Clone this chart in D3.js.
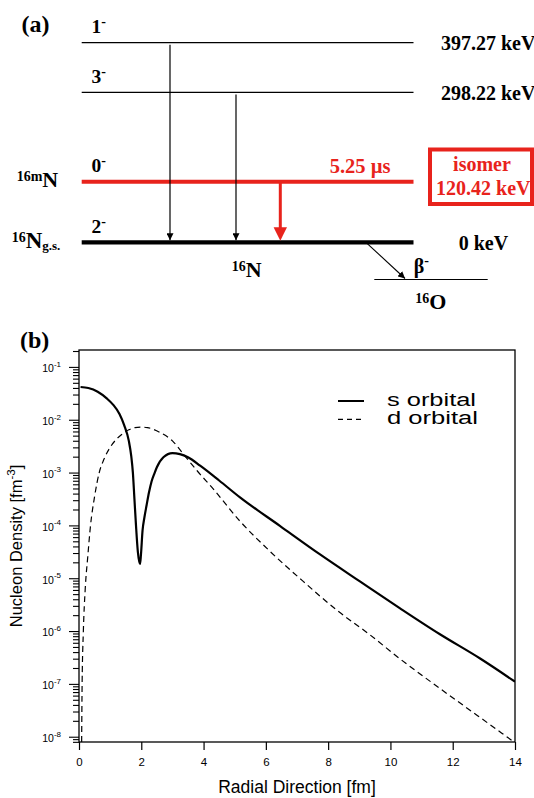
<!DOCTYPE html>
<html>
<head>
<meta charset="utf-8">
<script src="https://cdn.jsdelivr.net/npm/d3@7"></script>
<style>
  html, body { margin: 0; padding: 0; background: #ffffff; }
  svg { display: block; }
</style>
</head>
<body>
<script>
// ---------------- DATA ----------------
// Panel (a): level scheme of 16N
const levelEnergies = [397.27, 298.22, 120.42, 0];           // keV
const levelSpins    = ["1", "3", "0", "2"];                   // J (parity "-")
const levelLabels   = ["397.27 keV", "298.22 keV", "", "0 keV"];
const gammaFrom     = [397.27, 298.22, 120.42];               // transitions to g.s.
const isomerLabel   = ["isomer", "120.42 keV"];
const isomerLife    = "5.25 µs";

// Panel (b): nucleon density
const sRadius  = [0.05, 0.3, 0.6, 0.9, 1.1, 1.3, 1.45, 1.6, 1.68, 1.73, 1.78, 1.83, 1.89, 1.96, 1.99, 2.04, 2.1, 2.17, 2.25, 2.33, 2.42, 2.5, 2.71, 3.0, 3.24, 3.5, 3.89, 4.5, 5.17, 6.45, 7.74, 9.02, 10.31, 11.59, 12.88, 14.0];
const sDensity = [4.17e-2, 3.98e-2, 3.39e-2, 2.51e-2, 1.91e-2, 1.29e-2, 7.94e-3, 3.98e-3, 2.0e-3, 1.0e-3, 3.16e-4, 1.0e-4, 3.16e-5, 1.86e-5, 2.82e-5, 7.94e-5, 1.41e-4, 2.4e-4, 4.27e-4, 6.76e-4, 9.55e-4, 1.26e-3, 1.95e-3, 2.34e-3, 2.24e-3, 1.95e-3, 1.35e-3, 7.08e-4, 3.39e-4, 9.8e-5, 2.82e-5, 8.7e-6, 2.69e-6, 8.7e-7, 3.02e-7, 1.10e-7];
const dRadius  = [0.085, 0.1, 0.14, 0.2, 0.28, 0.37, 0.5, 0.65, 0.8, 1.0, 1.2, 1.37, 1.6, 1.8, 2.0, 2.2, 2.6, 3.0, 3.35, 3.8, 4.31, 5.17, 6.13, 7.2, 8.27, 9.34, 10.3, 11.6, 12.8, 13.9];
const dDensity = [7.9e-9, 1.0e-7, 1.0e-6, 6.3e-6, 2.5e-5, 1.0e-4, 3.5e-4, 1.0e-3, 1.78e-3, 3.0e-3, 4.27e-3, 5.25e-3, 6.46e-3, 7.08e-3, 7.24e-3, 7.08e-3, 5.75e-3, 3.98e-3, 2.24e-3, 1.07e-3, 4.9e-4, 1.2e-4, 3.24e-5, 8.7e-6, 2.51e-6, 8.5e-7, 3.0e-7, 8.1e-8, 2.5e-8, 8.5e-9];
const xTicks = [0, 2, 4, 6, 8, 10, 12, 14];
const yTickExponents = [-1, -2, -3, -4, -5, -6, -7, -8];
const legendNames = ["s orbital", "d orbital"];

// ---------------- SETUP ----------------
const W = 534, H = 798;
const RED = "#e8231c";
const SERIF = "'Liberation Serif', 'Times New Roman', serif";
const SANS = "'Liberation Sans', Arial, Helvetica, sans-serif";

const svg = d3.select("body").append("svg")
  .attr("width", W).attr("height", H)
  .attr("viewBox", `0 0 ${W} ${H}`);

// ---------------- PANEL (a) ----------------
const ga = svg.append("g");
const eY = d3.scaleLinear().domain([0, 397.27]).range([242.3, 42.7]);
const lvlX0 = 81.7, lvlX1 = 413.5;
const levelLabelX = [441, 441, 0, 458.7];

ga.append("text").attr("x", 21.5).attr("y", 31.5)
  .attr("font-family", SERIF).attr("font-weight", "bold").attr("font-size", 24)
  .text("(a)");

// arrowhead markers
const defs = svg.append("defs");
defs.append("marker").attr("id", "ahBlack").attr("viewBox", "0 0 10 10")
  .attr("refX", 10).attr("refY", 5).attr("markerWidth", 7).attr("markerHeight", 7)
  .attr("markerUnits", "userSpaceOnUse").attr("orient", "auto")
  .append("path").attr("d", "M0,0 L10,5 L0,10 Z").attr("fill", "#000");

levelEnergies.forEach((e, i) => {
  const isIso = e === 120.42;
  const isGs = e === 0;
  ga.append("line")
    .attr("x1", lvlX0).attr("x2", lvlX1)
    .attr("y1", eY(e)).attr("y2", eY(e))
    .attr("stroke", isIso ? RED : "#000")
    .attr("stroke-width", isIso ? 4 : (isGs ? 4.3 : 1.3));
  // spin label
  const t = ga.append("text").attr("x", 91.5).attr("y", eY(e) - 9.3)
    .attr("font-family", SERIF).attr("font-weight", "bold").attr("font-size", 19.5);
  t.append("tspan").text(levelSpins[i]);
  t.append("tspan").attr("font-size", 14).attr("dy", -7).text("-");
  if (levelLabels[i]) {
    ga.append("text").attr("x", levelLabelX[i]).attr("y", eY(e) + 7.3)
      .attr("font-family", SERIF).attr("font-weight", "bold").attr("font-size", 20)
      .text(levelLabels[i]);
  }
});

// gamma transitions
const gammaX = [170, 236, 280.3];
gammaFrom.forEach((e, i) => {
  if (e === 120.42) {
    ga.append("line").attr("x1", gammaX[i]).attr("x2", gammaX[i])
      .attr("y1", eY(e) + 1).attr("y2", eY(0) - 14)
      .attr("stroke", RED).attr("stroke-width", 3);
    ga.append("path")
      .attr("d", `M${gammaX[i] - 6.7},${eY(0) - 15} L${gammaX[i] + 6.7},${eY(0) - 15} L${gammaX[i]},${eY(0) - 1.5} Z`)
      .attr("fill", RED);
  } else {
    ga.append("line").attr("x1", gammaX[i]).attr("x2", gammaX[i])
      .attr("y1", eY(e) + 2).attr("y2", eY(0) - 2)
      .attr("stroke", "#000").attr("stroke-width", 1.2)
      .attr("marker-end", "url(#ahBlack)");
  }
});

// isomer annotations
ga.append("text").attr("x", 390.5).attr("y", 173.3).attr("text-anchor", "end")
  .attr("font-family", SERIF).attr("font-weight", "bold").attr("font-size", 20.5)
  .attr("fill", RED).text(isomerLife);
ga.append("rect").attr("x", 430).attr("y", 149.5).attr("width", 102).attr("height", 54.5)
  .attr("fill", "none").attr("stroke", RED).attr("stroke-width", 4);
ga.append("text").attr("x", 482).attr("y", 170.7).attr("text-anchor", "middle")
  .attr("font-family", SERIF).attr("font-weight", "bold").attr("font-size", 20)
  .attr("fill", RED).text(isomerLabel[0]);
ga.append("text").attr("x", 483.3).attr("y", 195).attr("text-anchor", "middle")
  .attr("font-family", SERIF).attr("font-weight", "bold").attr("font-size", 20)
  .attr("fill", RED).text(isomerLabel[1]);

// nucleus labels
function nucLabel(x, y, mass, sym, sub, symSize) {
  const t = ga.append("text").attr("x", x).attr("y", y)
    .attr("font-family", SERIF).attr("font-weight", "bold");
  t.append("tspan").attr("font-size", 14).attr("dy", -6).text(mass);
  t.append("tspan").attr("font-size", symSize).attr("dy", 6).text(sym);
  if (sub) t.append("tspan").attr("font-size", 13).attr("dy", 2).text(sub);
}
nucLabel(16.7, 186.7, "16m", "N", null, 22);
nucLabel(11.7, 248, "16", "N", "g.s.", 23);
nucLabel(231.7, 277.3, "16", "N", null, 22);
nucLabel(415.3, 309.3, "16", "O", null, 22);

// beta decay
ga.append("line").attr("x1", 367).attr("y1", eY(0) + 1).attr("x2", 405).attr("y2", 278.5)
  .attr("stroke", "#000").attr("stroke-width", 1.1).attr("marker-end", "url(#ahBlack)");
ga.append("line").attr("x1", 374.3).attr("x2", 487.7).attr("y1", 279.5).attr("y2", 279.5)
  .attr("stroke", "#000").attr("stroke-width", 1.2);
const bt = ga.append("text").attr("x", 413.7).attr("y", 273.3)
  .attr("font-family", SERIF).attr("font-weight", "bold").attr("font-size", 20);
bt.append("tspan").text("β");
bt.append("tspan").attr("font-size", 14).attr("dy", -8).text("-");

// ---------------- PANEL (b) ----------------
const gb = svg.append("g");
const L = 79, R = 515, T = 350, B = 742;
const x = d3.scaleLinear().domain([0, 14]).range([L, R]);
const y = d3.scaleLog().domain([Math.pow(10, -8.1), Math.pow(10, -0.68)]).range([B, T]);

gb.append("text").attr("x", 20).attr("y", 348)
  .attr("font-family", SERIF).attr("font-weight", "bold").attr("font-size", 24)
  .text("(b)");

defs.append("clipPath").attr("id", "plotClip")
  .append("rect").attr("x", L).attr("y", T).attr("width", R - L).attr("height", B - T);

// y axis: major + minor ticks
const majors = yTickExponents.map(e => Math.pow(10, e));
const minors = [];
for (let e = -9; e <= -1; e++) for (let m = 2; m <= 9; m++) {
  const v = m * Math.pow(10, e);
  if (v >= y.domain()[0] && v <= y.domain()[1]) minors.push(v);
}
const yMinor = gb.append("g").attr("transform", `translate(${L},0)`)
  .call(d3.axisLeft(y).tickValues(minors).tickSize(6).tickFormat(""));
const yMajor = gb.append("g").attr("transform", `translate(${L},0)`)
  .call(d3.axisLeft(y).tickValues(majors).tickSize(10).tickFormat(""));
[yMinor, yMajor].forEach(g => {
  g.select(".domain").remove();
  g.selectAll(".tick line").attr("stroke", "#000").attr("stroke-width", 1.1);
});
yMajor.selectAll(".tick").each(function(d) {
  const t = d3.select(this).append("text")
    .attr("x", -18).attr("y", 4.8).attr("text-anchor", "end")
    .attr("font-family", SANS).attr("font-size", 10.5).attr("fill", "#000");
  t.append("tspan").text("10");
  t.append("tspan").attr("font-size", 8).attr("dy", -5.5).text(String(Math.round(Math.log10(d))));
});

// x axis
const xAxis = gb.append("g").attr("transform", `translate(0,${B})`)
  .call(d3.axisBottom(x).tickValues(xTicks).tickSize(8).tickPadding(7.5));
xAxis.select(".domain").remove();
xAxis.selectAll(".tick line").attr("stroke", "#000").attr("stroke-width", 1.2);
xAxis.selectAll(".tick text").attr("font-family", SANS).attr("font-size", 11.5).attr("fill", "#000");

// frame
gb.append("rect").attr("x", L).attr("y", T).attr("width", R - L).attr("height", B - T)
  .attr("fill", "none").attr("stroke", "#000").attr("stroke-width", 1.3);

// curves
const line = d3.line().x(d => x(d[0])).y(d => y(d[1])).curve(d3.curveMonotoneX);
const sData = sRadius.map((r, i) => [r, sDensity[i]]);
const dData = dRadius.map((r, i) => [r, dDensity[i]]);
const curves = gb.append("g").attr("clip-path", "url(#plotClip)");
curves.append("path").datum(dData).attr("d", line)
  .attr("fill", "none").attr("stroke", "#000").attr("stroke-width", 1.2)
  .attr("stroke-dasharray", "6,4");
curves.append("path").datum(sData).attr("d", line)
  .attr("fill", "none").attr("stroke", "#000").attr("stroke-width", 2.2);

// axis titles
gb.append("text").attr("x", (L + R) / 2).attr("y", 792.5).attr("text-anchor", "middle")
  .attr("font-family", SANS).attr("font-size", 17.5).attr("fill", "#000")
  .text("Radial Direction [fm]");
const yl = gb.append("text")
  .attr("transform", `translate(22,${(T + B) / 2}) rotate(-90)`)
  .attr("text-anchor", "middle")
  .attr("font-family", SANS).attr("font-size", 16.5).attr("fill", "#000");
yl.append("tspan").text("Nucleon Density [fm");
yl.append("tspan").attr("font-size", 11.5).attr("dy", -7).text("-3");
yl.append("tspan").attr("dy", 7).text("]");

// legend
const leg = gb.append("g");
legendNames.forEach((name, i) => {
  const ly = 401 + i * 18.3;
  leg.append("line").attr("x1", 338).attr("x2", 364).attr("y1", ly).attr("y2", ly)
    .attr("stroke", "#000").attr("stroke-width", i === 0 ? 2 : 1.2)
    .attr("stroke-dasharray", i === 0 ? null : "5,4");
  leg.append("text").attr("x", 387).attr("y", ly + 4.8)
    .attr("font-family", SANS).attr("font-size", 18).attr("fill", "#000")
    .attr("textLength", i === 0 ? 89 : 91).attr("lengthAdjust", "spacingAndGlyphs")
    .text(name);
});
</script>
</body>
</html>
